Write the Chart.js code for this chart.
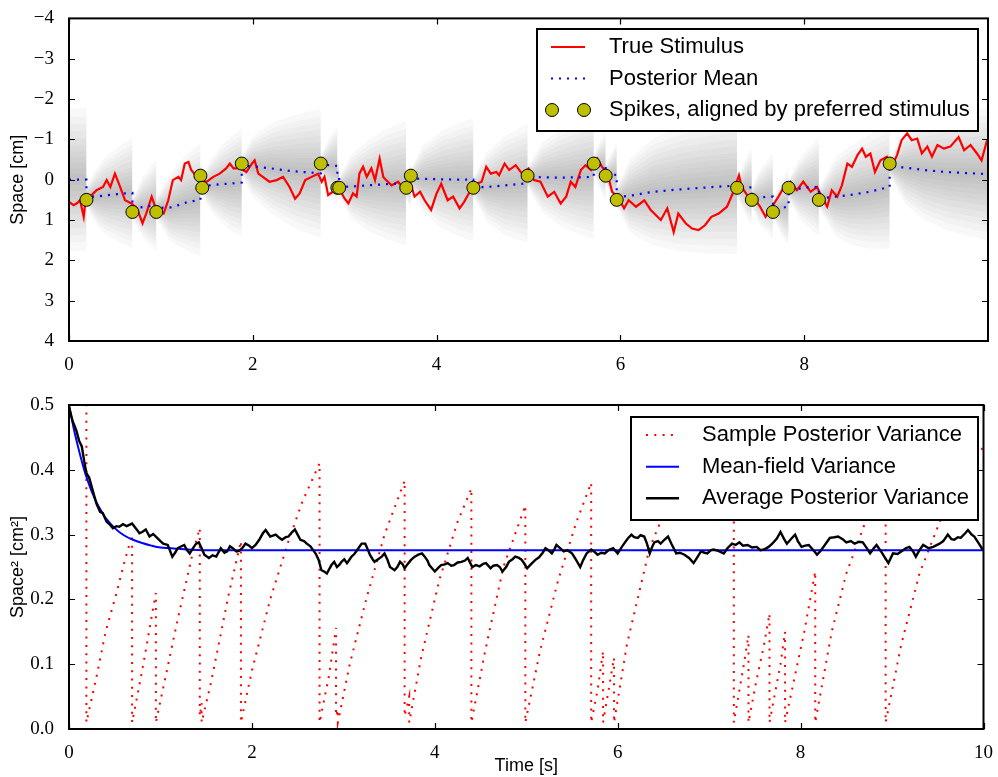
<!DOCTYPE html>
<html>
<head>
<meta charset="utf-8">
<script src="https://cdn.jsdelivr.net/npm/chart.js@4.4.1/dist/chart.umd.min.js"></script>
<style>
body { margin: 0; background: #fff; }
#topChart { position: absolute; left: 0; top: 0; }
#bottomChart { position: absolute; left: 0; top: 380px; }
</style>
</head>
<body>
<canvas id="topChart" width="998" height="380"></canvas>
<canvas id="bottomChart" width="998" height="397"></canvas>
<script>
// true stimulus (top panel, red)
const stimTime = [0.00,0.05,0.09,0.12,0.16,0.18,0.23,0.30,0.37,0.41,
  0.45,0.50,0.55,0.61,0.68,0.74,0.80,0.84,0.90,0.95,
  1.03,1.08,1.13,1.19,1.22,1.26,1.30,1.33,1.39,1.44,
  1.50,1.57,1.64,1.71,1.75,1.79,1.86,1.93,1.99,2.02,
  2.06,2.11,2.18,2.26,2.33,2.40,2.46,2.51,2.57,2.64,
  2.71,2.75,2.78,2.82,2.87,2.95,3.00,3.04,3.09,3.13,
  3.16,3.20,3.24,3.29,3.33,3.38,3.42,3.45,3.51,3.58,
  3.63,3.71,3.76,3.82,3.87,3.94,4.00,4.05,4.12,4.18,
  4.25,4.30,4.36,4.44,4.49,4.54,4.59,4.65,4.68,4.74,
  4.79,4.86,4.93,5.00,5.06,5.13,5.21,5.28,5.35,5.41,
  5.46,5.51,5.57,5.62,5.68,5.75,5.80,5.86,5.91,5.97,
  6.04,6.09,6.17,6.26,6.33,6.44,6.51,6.58,6.63,6.71,
  6.78,6.85,6.92,6.99,7.07,7.16,7.23,7.29,7.32,7.39,
  7.47,7.52,7.58,7.65,7.72,7.78,7.85,7.92,7.99,8.07,
  8.14,8.19,8.25,8.30,8.36,8.41,8.47,8.52,8.58,8.63,
  8.67,8.72,8.77,8.83,8.90,8.95,9.01,9.06,9.12,9.17,
  9.23,9.28,9.34,9.39,9.45,9.52,9.59,9.68,9.74,9.81,
  9.88,9.93,9.99];
const stimPos = [0.55,0.63,0.58,0.51,0.92,0.51,0.42,0.26,0.18,0.01,
  0.18,-0.15,0.14,0.51,0.59,0.71,1.08,0.84,0.42,0.75,
  0.84,0.51,0.01,-0.07,0.01,-0.40,-0.44,-0.24,-0.07,0.05,
  0.05,-0.07,-0.15,-0.28,-0.40,-0.28,-0.28,-0.19,-0.40,-0.48,
  -0.15,-0.07,0.05,0.01,-0.07,0.18,0.47,0.34,0.01,-0.07,
  -0.15,0.05,-0.07,0.38,0.30,0.26,0.47,0.59,0.34,0.42,
  -0.15,-0.32,-0.07,-0.28,0.01,-0.52,-0.07,0.01,0.14,0.05,
  0.18,0.05,0.42,0.30,0.51,0.75,0.34,0.10,0.51,0.42,
  0.71,0.55,0.30,0.10,0.05,-0.32,-0.15,-0.19,-0.11,-0.40,
  -0.24,-0.36,-0.15,-0.28,0.01,0.05,0.42,0.30,0.59,0.42,
  0.05,0.18,-0.24,-0.36,-0.24,-0.52,-0.32,-0.15,0.30,0.42,
  0.71,0.51,0.67,0.51,0.75,1.00,0.71,1.30,0.84,1.08,
  1.21,1.25,1.13,0.92,0.84,0.67,0.30,-0.11,0.18,0.42,
  0.51,0.67,0.92,0.67,0.42,0.18,0.05,0.26,0.05,0.30,
  0.18,0.42,0.67,0.26,0.42,0.14,-0.40,-0.32,-0.61,-0.77,
  -0.57,-0.65,-0.19,-0.48,-0.57,-0.32,-0.61,-0.98,-1.15,-0.98,
  -1.02,-0.65,-0.82,-0.57,-0.86,-0.77,-0.82,-1.06,-0.73,-0.86,
  -0.65,-0.48,-0.98];

// posterior mean (top, blue dots) and sample posterior variance (bottom, red dots)
const postTime = [0.00,0.19,0.19,0.30,0.40,0.52,0.61,0.69,0.69,0.80,
  0.95,0.95,1.10,1.19,1.27,1.35,1.43,1.43,1.45,1.45,
  1.55,1.65,1.75,1.88,1.88,2.00,2.20,2.40,2.55,2.74,
  2.74,2.84,2.92,2.92,2.94,2.94,3.07,3.25,3.45,3.67,
  3.67,3.72,3.72,3.85,4.05,4.25,4.40,4.40,4.55,4.75,
  4.99,4.99,5.15,5.35,5.55,5.71,5.71,5.78,5.84,5.84,
  5.96,5.96,6.10,6.35,6.65,6.95,7.14,7.27,7.27,7.38,
  7.43,7.43,7.51,7.60,7.66,7.66,7.78,7.83,7.83,7.95,
  8.04,8.16,8.16,8.34,8.50,8.71,8.93,8.93,9.10,9.30,
  9.55,9.80,10.00];
const postMean = [0.00,0.00,0.42,0.42,0.39,0.36,0.34,0.33,0.71,0.68,
  0.63,0.70,0.69,0.63,0.57,0.53,0.50,0.02,0.03,0.14,
  0.14,0.11,0.10,0.07,-0.34,-0.33,-0.28,-0.22,-0.19,-0.16,
  -0.37,-0.36,-0.34,-0.07,-0.07,0.18,0.17,0.14,0.11,0.09,
  0.14,0.14,-0.03,-0.02,-0.01,0.00,0.00,0.19,0.18,0.14,
  0.09,-0.07,-0.06,-0.05,-0.06,-0.07,-0.37,-0.36,-0.34,-0.13,
  -0.12,0.43,0.40,0.30,0.24,0.19,0.16,0.15,0.20,0.19,
  0.19,0.44,0.45,0.42,0.42,0.70,0.69,0.66,0.24,0.22,
  0.19,0.18,0.47,0.42,0.38,0.30,0.18,-0.33,-0.30,-0.24,
  -0.19,-0.16,-0.14];
const postVar = [0.50,0.50,0.01,0.08,0.15,0.21,0.26,0.30,0.01,0.09,
  0.21,0.01,0.11,0.17,0.22,0.27,0.31,0.02,0.04,0.01,
  0.07,0.14,0.21,0.29,0.01,0.09,0.20,0.29,0.35,0.41,
  0.01,0.08,0.156,0.02,0.03,0.01,0.10,0.20,0.30,0.383,
  0.02,0.05,0.01,0.11,0.23,0.32,0.371,0.01,0.12,0.25,
  0.345,0.01,0.12,0.23,0.32,0.38,0.01,0.06,0.12,0.01,
  0.11,0.01,0.13,0.28,0.38,0.43,0.45,0.46,0.01,0.10,
  0.145,0.01,0.07,0.13,0.178,0.01,0.10,0.15,0.01,0.09,
  0.15,0.243,0.01,0.15,0.24,0.32,0.38,0.01,0.13,0.24,
  0.33,0.39,0.436];

// spikes, placed at the preferred stimulus of the firing cell
const spikeTime = [0.19,0.69,0.95,1.43,1.45,1.88,2.74,2.92,2.94,3.67,3.72,
  4.40,4.99,5.71,5.84,5.96,7.27,7.43,7.66,7.83,8.16,8.93];
const spikePos = [0.5,0.8,0.8,-0.1,0.2,-0.4,-0.4,0.2,0.2,0.2,-0.1,
  0.2,-0.1,-0.4,-0.1,0.5,0.2,0.5,0.8,0.2,0.5,-0.4];

// mean-field variance (bottom, blue)
const mfTime = [0,0.05,0.1,0.15,0.2,0.25,0.3,0.35,0.4,0.5,0.6,0.7,0.8,0.9,1.0,1.2,1.5,10];
const mfVar = [0.5,0.465,0.435,0.408,0.385,0.366,0.35,0.337,0.326,0.31,0.299,0.292,0.287,0.283,0.28,0.278,0.276,0.276];

// average posterior variance (bottom, black)
const avgTime = [0.00,0.04,0.08,0.11,0.14,0.17,0.19,0.22,0.26,0.30,
  0.34,0.37,0.41,0.45,0.48,0.52,0.55,0.59,0.63,0.69,
  0.74,0.77,0.80,0.84,0.88,0.92,0.95,1.00,1.03,1.08,
  1.13,1.16,1.19,1.23,1.26,1.29,1.32,1.36,1.39,1.42,
  1.45,1.48,1.53,1.57,1.61,1.66,1.70,1.73,1.76,1.79,
  1.83,1.86,1.90,1.93,1.97,2.00,2.04,2.08,2.12,2.15,
  2.20,2.26,2.30,2.33,2.37,2.40,2.44,2.47,2.50,2.53,
  2.57,2.60,2.64,2.67,2.70,2.73,2.76,2.79,2.82,2.85,
  2.87,2.90,2.93,2.96,2.98,3.01,3.04,3.07,3.09,3.12,
  3.14,3.17,3.20,3.24,3.27,3.29,3.32,3.34,3.38,3.42,
  3.45,3.48,3.51,3.56,3.59,3.62,3.65,3.67,3.70,3.74,
  3.78,3.82,3.86,3.89,3.92,3.94,3.97,4.00,4.04,4.07,
  4.11,4.14,4.18,4.21,4.25,4.29,4.33,4.36,4.41,4.45,
  4.49,4.53,4.56,4.61,4.64,4.68,4.71,4.74,4.78,4.81,
  4.85,4.88,4.92,4.95,4.98,5.01,5.05,5.10,5.14,5.18,
  5.21,5.25,5.28,5.31,5.33,5.37,5.41,5.45,5.50,5.54,
  5.59,5.62,5.66,5.71,5.75,5.78,5.82,5.86,5.90,5.95,
  6.00,6.04,6.07,6.11,6.15,6.18,6.22,6.25,6.29,6.32,
  6.35,6.38,6.40,6.44,6.47,6.51,6.55,6.59,6.64,6.68,
  6.73,6.78,6.83,6.87,6.91,6.95,6.98,7.02,7.05,7.10,
  7.16,7.20,7.25,7.29,7.33,7.37,7.42,7.47,7.52,7.56,
  7.60,7.65,7.69,7.74,7.78,7.82,7.85,7.90,7.94,7.97,
  8.01,8.05,8.09,8.14,8.18,8.22,8.25,8.29,8.32,8.37,
  8.41,8.46,8.50,8.55,8.59,8.64,8.68,8.72,8.76,8.80,
  8.83,8.88,8.92,8.96,9.01,9.06,9.10,9.15,9.19,9.23,
  9.26,9.30,9.34,9.40,9.45,9.52,9.56,9.61,9.65,9.68,
  9.72,9.75,9.80,9.83,9.87,9.90,9.95,9.99];
const avgVar = [0.497,0.475,0.461,0.445,0.436,0.410,0.395,0.388,0.368,0.348,
  0.335,0.333,0.320,0.315,0.310,0.313,0.312,0.316,0.313,0.317,
  0.308,0.302,0.304,0.308,0.297,0.301,0.297,0.290,0.286,0.284,
  0.266,0.272,0.279,0.282,0.284,0.276,0.271,0.280,0.286,0.288,
  0.279,0.269,0.264,0.268,0.266,0.279,0.272,0.274,0.282,0.279,
  0.274,0.275,0.280,0.286,0.283,0.279,0.284,0.292,0.302,0.307,
  0.297,0.300,0.295,0.292,0.296,0.297,0.304,0.308,0.300,0.292,
  0.290,0.286,0.282,0.276,0.270,0.261,0.245,0.243,0.240,0.248,
  0.253,0.258,0.250,0.254,0.258,0.262,0.256,0.262,0.266,0.270,
  0.274,0.280,0.286,0.286,0.276,0.269,0.262,0.258,0.262,0.266,
  0.271,0.262,0.250,0.245,0.250,0.258,0.254,0.248,0.254,0.261,
  0.266,0.269,0.271,0.266,0.260,0.253,0.248,0.243,0.249,0.253,
  0.254,0.256,0.252,0.253,0.257,0.258,0.260,0.264,0.250,0.253,
  0.251,0.255,0.256,0.248,0.252,0.253,0.250,0.243,0.250,0.258,
  0.262,0.266,0.264,0.261,0.255,0.248,0.254,0.261,0.265,0.272,
  0.279,0.275,0.271,0.278,0.284,0.279,0.274,0.276,0.271,0.262,
  0.250,0.260,0.271,0.277,0.273,0.269,0.272,0.271,0.276,0.279,
  0.271,0.280,0.286,0.294,0.300,0.296,0.295,0.299,0.297,0.286,
  0.271,0.282,0.288,0.290,0.286,0.292,0.297,0.285,0.271,0.272,
  0.269,0.264,0.256,0.265,0.274,0.272,0.271,0.276,0.277,0.275,
  0.271,0.279,0.286,0.284,0.288,0.283,0.284,0.280,0.281,0.276,
  0.277,0.281,0.286,0.294,0.304,0.293,0.286,0.294,0.300,0.290,
  0.281,0.283,0.284,0.276,0.269,0.275,0.281,0.289,0.295,0.296,
  0.297,0.293,0.288,0.290,0.286,0.289,0.288,0.280,0.271,0.279,
  0.284,0.274,0.265,0.256,0.271,0.270,0.274,0.279,0.281,0.274,
  0.266,0.276,0.284,0.279,0.281,0.286,0.290,0.300,0.293,0.292,
  0.296,0.295,0.302,0.307,0.300,0.297,0.286,0.277];

const topXTicks = [0, 2, 4, 6, 8];
const topYTicks = [-4, -3, -2, -1, 0, 1, 2, 3, 4];
const bottomXTicks = [0, 2, 4, 6, 8, 10];
const bottomYTicks = [0, 0.1, 0.2, 0.3, 0.4, 0.5];

// gray posterior density shading: bands of mean +/- k*sd
const bandK = [0.2, 0.4, 0.6, 0.8, 1.0, 1.2, 1.45, 1.7, 1.95, 2.2, 2.5];

const tickFont = { family: 'Liberation Serif, DejaVu Serif, serif', size: 19 };
const labelFont = { family: 'Liberation Sans, Arial, sans-serif', size: 18 };

function pts(xs, ys) {
  return xs.map((x, i) => ({ x: x, y: ys[i] }));
}

function xAxis(max, ticks, height, title) {
  return {
    type: 'linear', min: 0, max: max,
    grid: { display: false }, border: { display: false },
    afterBuildTicks: s => { s.ticks = ticks.map(v => ({ value: v })); },
    afterFit: s => { s.height = height; },
    ticks: { font: tickFont, color: '#000', padding: 5, maxRotation: 0, autoSkip: false,
      callback: v => String(v) },
    title: { display: !!title, text: title || '', font: labelFont, color: '#000',
      padding: { top: 0, bottom: 0 } }
  };
}

function yAxis(min, max, reverse, ticks, fmt, title) {
  return {
    type: 'linear', min: min, max: max, reverse: reverse,
    grid: { display: false }, border: { display: false },
    afterBuildTicks: s => { s.ticks = ticks.map(v => ({ value: v })); },
    afterFit: s => { s.width = 69; },
    ticks: { font: tickFont, color: '#000', padding: 7, autoSkip: false, callback: fmt },
    title: { display: true, text: title, font: labelFont, color: '#000',
      padding: { top: 7, bottom: 0 } }
  };
}

// frame and inward tick marks, like the original
const frameTicks = {
  id: 'frameTicks',
  afterDatasetsDraw(chart) {
    const { ctx, chartArea: a, scales } = chart;
    ctx.save();
    ctx.strokeStyle = '#000';
    ctx.lineWidth = 1.2;
    ctx.beginPath();
    scales.x.ticks.forEach(t => {
      const px = Math.round(scales.x.getPixelForValue(t.value)) + 0.5;
      ctx.moveTo(px, a.bottom); ctx.lineTo(px, a.bottom - 6);
      ctx.moveTo(px, a.top); ctx.lineTo(px, a.top + 6);
    });
    scales.y.ticks.forEach(t => {
      const py = Math.round(scales.y.getPixelForValue(t.value)) + 0.5;
      ctx.moveTo(a.left, py); ctx.lineTo(a.left + 6, py);
      ctx.moveTo(a.right, py); ctx.lineTo(a.right - 6, py);
    });
    ctx.stroke();
    ctx.lineWidth = 2;
    ctx.strokeRect(a.left, a.top, a.right - a.left, a.bottom - a.top);
    ctx.restore();
  }
};

// boxed legend inside the plot area
const boxLegend = {
  id: 'boxLegend',
  afterDraw(chart, args, o) {
    const ctx = chart.ctx;
    const [x0, y0, x1, y1] = o.box;
    ctx.save();
    ctx.fillStyle = '#fff';
    ctx.fillRect(x0, y0, x1 - x0, y1 - y0);
    ctx.lineWidth = 2;
    ctx.strokeStyle = '#000';
    ctx.strokeRect(x0, y0, x1 - x0, y1 - y0);
    const items = chart.data.datasets.filter(d => d.label);
    items.forEach((d, i) => {
      const y = o.rows[i];
      if (d.showLine === false) {
        [o.sampleX[0] + 1, o.sampleX[1] - 1].forEach(cx => {
          ctx.beginPath();
          ctx.arc(cx, y, d.pointRadius, 0, Math.PI * 2);
          ctx.fillStyle = d.pointBackgroundColor;
          ctx.fill();
          ctx.lineWidth = d.pointBorderWidth;
          ctx.strokeStyle = d.pointBorderColor;
          ctx.stroke();
        });
      } else {
        ctx.beginPath();
        ctx.setLineDash(d.borderDash || []);
        ctx.moveTo(o.sampleX[0], y);
        ctx.lineTo(o.sampleX[1], y);
        ctx.lineWidth = d.borderWidth;
        ctx.strokeStyle = d.borderColor;
        ctx.stroke();
        ctx.setLineDash([]);
      }
      ctx.fillStyle = '#000';
      ctx.font = o.font;
      ctx.textBaseline = 'middle';
      ctx.textAlign = 'left';
      ctx.fillText(d.label, o.textX, y);
    });
    ctx.restore();
  }
};

const bandSets = [];
bandK.forEach(k => {
  bandSets.push({
    data: postTime.map((t, i) => ({ x: t, y: postMean[i] - k * Math.sqrt(postVar[i]) })),
    borderWidth: 0, pointRadius: 0, fill: false, order: 10
  });
  bandSets.push({
    data: postTime.map((t, i) => ({ x: t, y: postMean[i] + k * Math.sqrt(postVar[i]) })),
    borderWidth: 0, pointRadius: 0, fill: '-1',
    backgroundColor: 'rgba(0,0,0,0.028)', order: 10
  });
});

const common = {
  responsive: false,
  animation: false,
  devicePixelRatio: 1,
  events: [],
  plugins: { legend: { display: false }, tooltip: { enabled: false } }
};

new Chart(document.getElementById('topChart'), {
  type: 'line',
  data: {
    datasets: bandSets.concat([
      {
        label: 'True Stimulus',
        data: pts(stimTime, stimPos),
        borderColor: '#ff0000', borderWidth: 2.2, pointRadius: 0, tension: 0, order: 3
      },
      {
        label: 'Posterior Mean',
        data: pts(postTime, postMean),
        borderColor: '#0000ff', borderWidth: 2.2, borderDash: [2, 6],
        pointRadius: 0, tension: 0, order: 2
      },
      {
        label: 'Spikes, aligned by preferred stimulus',
        data: pts(spikeTime, spikePos),
        showLine: false, pointRadius: 6.5,
        pointBackgroundColor: '#bfbf00', pointBorderColor: '#000', pointBorderWidth: 1,
        order: 1
      }
    ])
  },
  options: Object.assign({}, common, {
    layout: { padding: { top: 18, right: 10, left: 0, bottom: 0 } },
    scales: {
      x: xAxis(10, topXTicks, 39, ''),
      y: yAxis(-4, 4, true, topYTicks, v => (v < 0 ? '\u2212' + Math.abs(v) : String(v)), 'Space [cm]')
    },
    plugins: Object.assign({}, common.plugins, {
      boxLegend: {
        box: [537, 29, 978, 131],
        rows: [47, 78.5, 110],
        sampleX: [551, 585],
        textX: 609,
        font: '22px Liberation Sans, Arial, sans-serif'
      }
    })
  }),
  plugins: [frameTicks, boxLegend]
});

new Chart(document.getElementById('bottomChart'), {
  type: 'line',
  data: {
    datasets: [
      {
        label: 'Sample Posterior Variance',
        data: pts(postTime, postVar),
        borderColor: '#ff0000', borderWidth: 2, borderDash: [2, 6.3],
        pointRadius: 0, tension: 0, order: 3
      },
      {
        label: 'Mean-field Variance',
        data: pts(mfTime, mfVar),
        borderColor: '#0000ff', borderWidth: 2, pointRadius: 0, tension: 0.3, order: 2
      },
      {
        label: 'Average Posterior Variance',
        data: pts(avgTime, avgVar),
        borderColor: '#000000', borderWidth: 2.4, pointRadius: 0, tension: 0, order: 1
      }
    ]
  },
  options: Object.assign({}, common, {
    layout: { padding: { top: 25, right: 10, left: 0, bottom: 0 } },
    scales: {
      x: xAxis(10, bottomXTicks, 48, 'Time [s]'),
      y: yAxis(0, 0.5, false, bottomYTicks, v => v.toFixed(1), 'Space\u00b2 [cm\u00b2]')
    },
    plugins: Object.assign({}, common.plugins, {
      boxLegend: {
        box: [631, 37, 978, 140],
        rows: [55, 86.7, 118.3],
        sampleX: [646, 679],
        textX: 702,
        font: '22px Liberation Sans, Arial, sans-serif'
      }
    })
  }),
  plugins: [frameTicks, boxLegend]
});
</script>
</body>
</html>
